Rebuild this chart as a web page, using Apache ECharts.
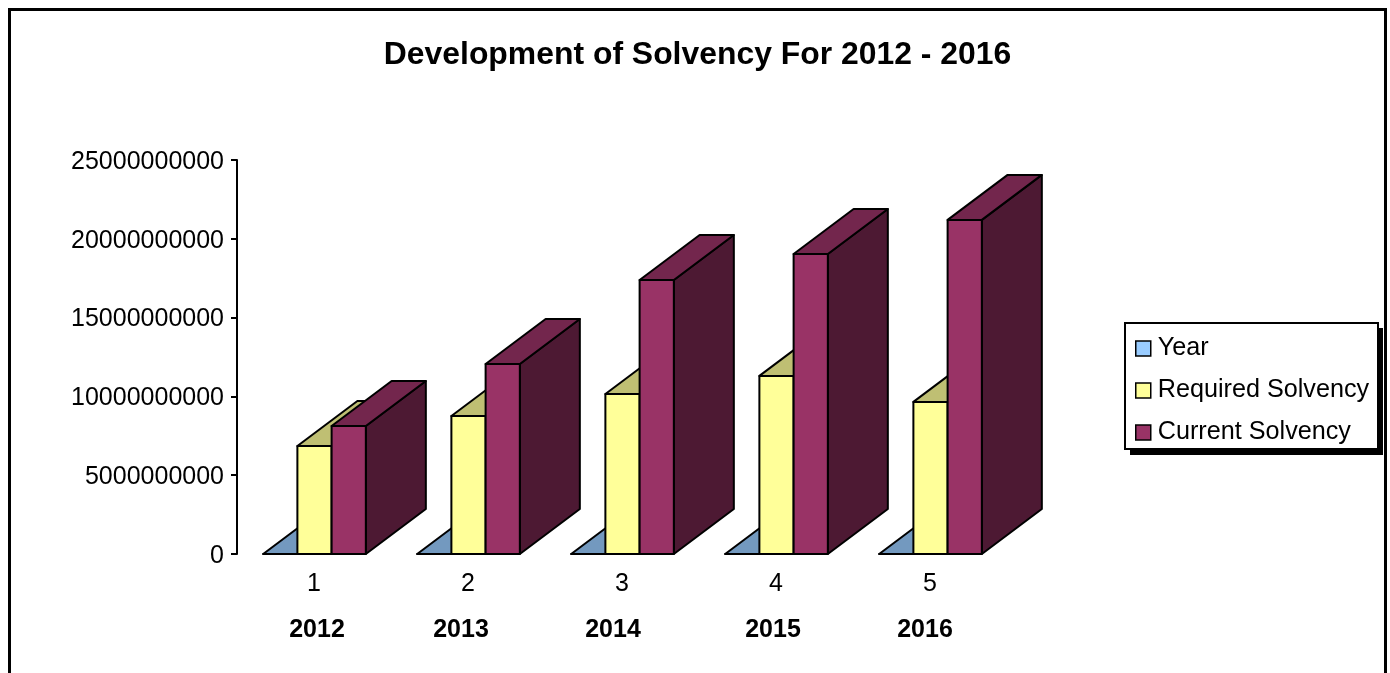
<!DOCTYPE html>
<html>
<head>
<meta charset="utf-8">
<title>Development of Solvency</title>
<script src="https://cdn.jsdelivr.net/npm/echarts@6/dist/echarts.min.js"></script>
<style>
    html, body { margin: 0; padding: 0; background: #fff; overflow: hidden; }
    #chart { width: 1390px; height: 673px; }
</style>
</head>
<body>
<div id="chart"></div>
<script>
// 图表数据
var categories = ['1', '2', '3', '4', '5'];
var yearLabels = ['2012', '2013', '2014', '2015', '2016'];
var yearValues = [2012, 2013, 2014, 2015, 2016];
var requiredSolvency = [6850000000, 8760000000, 10150000000, 11300000000, 9650000000];
var currentSolvency = [8120000000, 12060000000, 17390000000, 19040000000, 21200000000];

var FONT = '"Liberation Sans", Arial, sans-serif';
var DEPTH_X = 60;
var DEPTH_Y = 45;

// 画一根假 3D 柱子：正面、顶面、侧面
function bar3d(slot, front, top, side) {
    return function(params, api) {
        var band = api.size([1, 0])[0];
        var w = band / 4.5;
        var base = api.coord([api.value(0), 0]);
        var head = api.coord([api.value(0), api.value(1)]);
        var x0 = base[0] + (slot - 1.5) * w + 0.5;
        var x1 = x0 + w;
        var y0 = base[1];
        var y1 = head[1];
        var line = { stroke: '#000', lineWidth: 2, lineJoin: 'round' };
        return {
            type: 'group',
            children: [
                {
                    type: 'polygon',
                    shape: { points: [[x1, y0], [x1 + DEPTH_X, y0 - DEPTH_Y], [x1 + DEPTH_X, y1 - DEPTH_Y], [x1, y1]] },
                    style: Object.assign({ fill: side }, line)
                },
                {
                    type: 'polygon',
                    shape: { points: [[x0, y1], [x0 + DEPTH_X, y1 - DEPTH_Y], [x1 + DEPTH_X, y1 - DEPTH_Y], [x1, y1]] },
                    style: Object.assign({ fill: top }, line)
                },
                {
                    type: 'rect',
                    shape: { x: x0, y: y1, width: w, height: y0 - y1 },
                    style: Object.assign({ fill: front }, line)
                }
            ]
        };
    };
}

function makeSeries(name, values, slot, front, top, side) {
    return {
        name: name,
        type: 'custom',
        renderItem: bar3d(slot, front, top, side),
        itemStyle: { color: front },
        encode: { x: 0, y: 1 },
        data: values.map(function(v, i) { return [i, v]; })
    };
}

var yearOffsets = [317, 461, 613, 773, 925];

var chart = echarts.init(document.getElementById('chart'));

var option = {
    animation: false,
    backgroundColor: '#fff',
    textStyle: { fontFamily: FONT, color: '#000' },
    title: {
        text: 'Development of Solvency For 2012 - 2016',
        left: 692.5,
        top: 34,
        textAlign: 'center',
        textStyle: { fontFamily: FONT, fontSize: 31.9, fontWeight: 'bold', color: '#000' }
    },
    legend: {
        orient: 'vertical',
        left: 1135,
        top: 336,
        padding: 0,
        itemGap: 17,
        itemWidth: 15,
        itemHeight: 15,
        icon: 'rect',
        itemStyle: { borderColor: '#000', borderWidth: 1.5 },
        textStyle: { fontFamily: FONT, fontSize: 25.2, color: '#000', padding: [0, 0, 0, 2] },
        data: ['Year', 'Required Solvency', 'Current Solvency']
    },
    grid: { left: 237, top: 160, width: 770, height: 394, containLabel: false },
    xAxis: {
        type: 'category',
        data: categories,
        axisLine: { show: false },
        axisTick: { show: false },
        axisLabel: { color: '#000', fontFamily: FONT, fontSize: 25, margin: 18 }
    },
    yAxis: {
        type: 'value',
        min: 0,
        max: 25000000000,
        interval: 5000000000,
        splitLine: { show: false },
        axisLine: { show: true, lineStyle: { color: '#000', width: 2 } },
        axisTick: { show: true, length: 6, lineStyle: { color: '#000', width: 2 } },
        axisLabel: {
            color: '#000', fontFamily: FONT, fontSize: 25, margin: 13,
            verticalAlign: 'top',
            lineHeight: 4,
            formatter: function(v) { return String(v); }
        }
    },
    series: [
        makeSeries('Year', yearValues, 0, '#99CCFF', '#7399BF', '#4D6680'),
        makeSeries('Required Solvency', requiredSolvency, 1, '#FFFF99', '#BFBF73', '#80804D'),
        makeSeries('Current Solvency', currentSolvency, 2, '#993366', '#73264D', '#4D1933')
    ],
    graphic: [
        // 外框
        {
            type: 'rect',
            silent: true,
            z: -1,
            shape: { x: 9.5, y: 9.5, width: 1376, height: 700 },
            style: { fill: 'none', stroke: '#000', lineWidth: 3 }
        },
        // 图例底框和阴影
        {
            type: 'rect',
            silent: true,
            z: 1,
            shape: { x: 1130, y: 328, width: 253, height: 127 },
            style: { fill: '#000' }
        },
        {
            type: 'rect',
            silent: true,
            z: 1,
            shape: { x: 1125, y: 323, width: 253, height: 126 },
            style: { fill: '#fff', stroke: '#000', lineWidth: 2 }
        }
    ].concat(yearLabels.map(function(label, i) {
        return {
            type: 'text',
            silent: true,
            x: yearOffsets[i],
            y: 630,
            style: {
                text: label,
                fill: '#000',
                font: 'bold 25px ' + FONT,
                textAlign: 'center',
                textVerticalAlign: 'middle'
            }
        };
    }))
};

chart.setOption(option);
</script>
</body>
</html>
